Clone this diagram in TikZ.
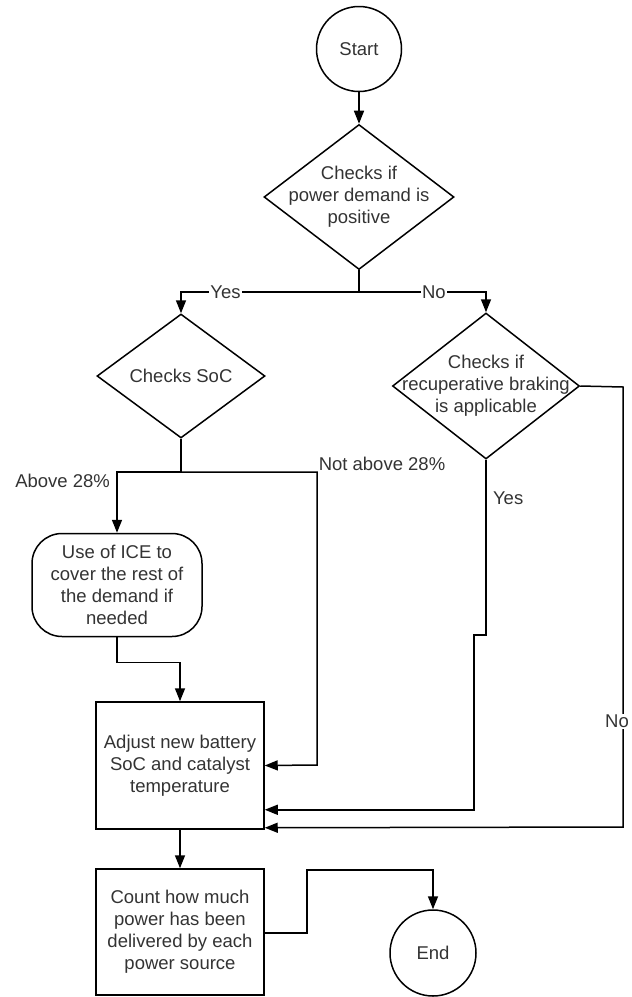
\documentclass[tikz,border=0pt]{standalone}
\usepackage{fontspec}
\setmainfont{Liberation Sans}
\usetikzlibrary{shapes.geometric,arrows.meta,calc}

\tikzset{
  terminal/.style={draw, circle, minimum size=85pt, inner sep=0pt},
  decision/.style={draw, diamond, inner sep=0pt},
  process/.style={draw, rectangle, minimum width=168pt, minimum height=127pt, align=center, inner sep=2pt},
  roundbox/.style={draw, rectangle, rounded corners=30pt, minimum width=170pt, minimum height=103pt, align=center, inner sep=0pt},
  lbl/.style={fill=white, inner sep=1pt}
}

\begin{document}
\begin{tikzpicture}[x=1pt, y=-1pt, line width=1.5pt, >={Triangle[length=13pt,width=10pt]},
  font=\fontsize{18.5}{22}\selectfont, text=black!80]

\useasboundingbox (0,0) rectangle (632,997);

% Nodes
\node[terminal] (start) at (359,49) {Start};

\node[decision, minimum width=190pt, minimum height=145pt] (demand) at (359,197) {};
\node[align=center] (demandtext) at (demand) {Checks if\\power demand is\\positive};

\node[decision, minimum width=168pt, minimum height=124pt] (soc) at (181,376) {};
\node (soctext) at (soc) {Checks SoC};

\node[decision, minimum width=187pt, minimum height=146pt] (recup) at (486,386) {};
\node[align=center] (recuptext) at (recup) {Checks if\\recuperative braking\\is applicable};

\node[roundbox] (ice) at (117,585) {Use of ICE to\\cover the rest of\\the demand if\\needed};

\node[process] (adjust) at (180,765.5) {Adjust new battery\\SoC and catalyst\\temperature};

\node[process, minimum height=126pt] (count) at (180,932) {Count how much\\power has been\\delivered by each\\power source};

\node[terminal, minimum size=86pt] (end) at (433,953) {End};

% Junctions
\coordinate (fork) at (359,292);
\coordinate (socfork) at (181,472);

% Connectors
\draw[->] (start) -- (demand);
\draw (demand.south) -- (fork);
\draw[->] (fork) -- node[lbl, pos=0.75] {Yes} (soc.north |- fork) -- (soc.north);
\draw[->] (fork) -- node[lbl, pos=0.59] {No} (recup.north |- fork) -- (recup.north);

\draw (soc.south) -- (socfork);
\draw[->] (socfork) -- (ice.north |- socfork)
  node[left, xshift=-3pt, yshift=-9pt] {Above 28\%} -- (ice.north);
\draw[->] (socfork) -- (317,472)
  node[above right, inner sep=1pt] {Not above 28\%} -- (317,765) -- (adjust.east);

\draw[->] (ice.south) -- ++(0,25) -| (adjust.north);

\draw[->] (recup.south) -- node[right, pos=0.22, xshift=3pt] {Yes} ++(0,175) -- ++(-12,0)
  |- ($(adjust.south east)+(0,-20)$);
\draw[->] (recup.east) -- (623,387) -- node[lbl, pos=0.76, xshift=-6pt] {No} (623,827)
  -- ($(adjust.south east)+(0,-2)$);

\draw[->] (adjust) -- (count);
\draw[->] (count.east |- 0,933) -- (307,933) -- (307,870) -| (end.north);

\end{tikzpicture}
\end{document}
